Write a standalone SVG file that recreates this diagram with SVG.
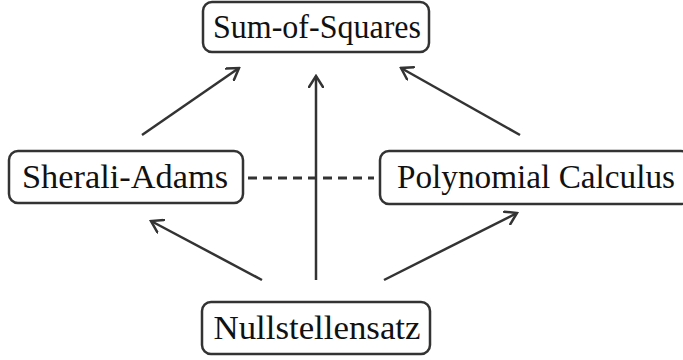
<svg xmlns="http://www.w3.org/2000/svg" width="683" height="360" viewBox="0 0 683 360">
<style>
.box{fill:#fff;stroke:#333;stroke-width:2.5}
.lbl{font-family:"Liberation Serif",serif;font-size:33px;fill:#111;text-anchor:middle}
.edge{stroke:#333;stroke-width:2.5;fill:none}
.dash{stroke:#333;stroke-width:2.8;fill:none;stroke-dasharray:9,6}
</style>
<defs>
<marker id="arr" viewBox="-12 -8 14 16" markerWidth="14" markerHeight="16" refX="0" refY="0" orient="auto" markerUnits="userSpaceOnUse">
<path d="M-11,-7 L0,0 L-11,7" fill="none" stroke="#333" stroke-width="2.5" stroke-linecap="round" stroke-linejoin="miter"/>
</marker>
</defs>
<rect width="683" height="360" fill="#fff"/>
<g id="connectors">
<line class="edge" x1="142" y1="135" x2="239" y2="68" marker-end="url(#arr)"/>
<line class="edge" x1="316" y1="280" x2="316" y2="76" marker-end="url(#arr)"/>
<line class="edge" x1="520" y1="135" x2="401" y2="68" marker-end="url(#arr)"/>
<line class="edge" x1="262" y1="280" x2="151" y2="221" marker-end="url(#arr)"/>
<line class="edge" x1="384" y1="280" x2="517" y2="213" marker-end="url(#arr)"/>
<line class="dash" x1="248" y1="178" x2="374" y2="178"/>
</g>
<g id="sos">
<rect class="box" x="203" y="2" width="226" height="50" rx="9"/>
<text class="lbl" x="317" y="38" textLength="208" lengthAdjust="spacingAndGlyphs">Sum-of-Squares</text>
</g>
<g id="sa">
<rect class="box" x="9" y="151" width="234" height="52" rx="9"/>
<text class="lbl" x="125" y="188" textLength="206" lengthAdjust="spacingAndGlyphs">Sherali-Adams</text>
</g>
<g id="pc">
<rect class="box" x="380" y="151" width="310" height="53" rx="9"/>
<text class="lbl" x="536" y="188" textLength="278" lengthAdjust="spacingAndGlyphs">Polynomial Calculus</text>
</g>
<g id="ns">
<rect class="box" x="202" y="302" width="228" height="52" rx="9"/>
<text class="lbl" x="317" y="339" textLength="207" lengthAdjust="spacingAndGlyphs">Nullstellensatz</text>
</g>
</svg>
